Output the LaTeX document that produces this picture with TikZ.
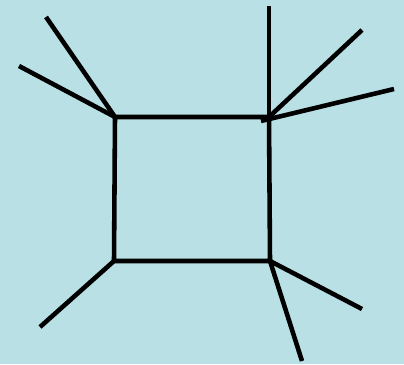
\documentclass[tikz,border=0pt]{standalone}
\usepackage{xcolor}
\usepackage{tikz}
\definecolor{bgcyan}{RGB}{185,224,228}

\begin{document}
\begin{tikzpicture}[x=0.02cm,y=-0.02cm,leg/.style={line width=2.6pt,black}]
  \fill[bgcyan] (0,0) rectangle (404,364);
  \useasboundingbox (0,0) rectangle (404,364);
  \coordinate (c1) at (115,117);
  \coordinate (c2) at (269,117);
  \coordinate (c3) at (270,261);
  \coordinate (c4) at (114,261);
  \coordinate (c2s) at (261,121);
  \coordinate (e1) at (46,17);
  \coordinate (e2) at (19,66);
  \coordinate (e3) at (269,6);
  \coordinate (e4) at (362,30);
  \coordinate (e5) at (394,89);
  \coordinate (e6) at (362,309);
  \coordinate (e7) at (302,361);
  \coordinate (e8) at (40,327);
  \draw[leg,line join=miter] (c1) -- (c2) -- (c3) -- (c4) -- cycle;
  \draw[leg] (c1) -- (e1);
  \draw[leg] (c1) -- (e2);
  \draw[leg] (c2) -- (e3);
  \draw[leg] (c2) -- (e4);
  \draw[leg] (c2s) -- (e5);
  \draw[leg] (c3) -- (e6);
  \draw[leg] (c3) -- (e7);
  \draw[leg] (c4) -- (e8);
\end{tikzpicture}
\end{document}
